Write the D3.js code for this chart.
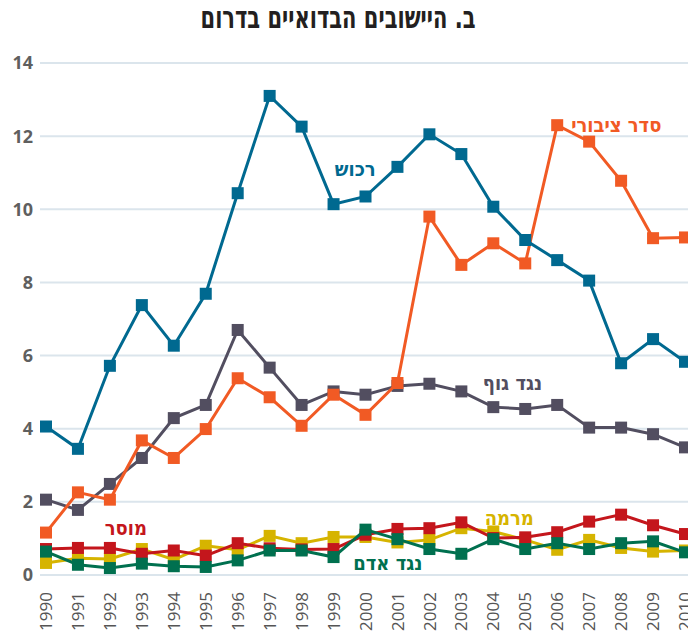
<!DOCTYPE html>
<html>
<head>
<meta charset="utf-8">
<script src="https://cdn.jsdelivr.net/npm/d3@7"></script>
<style>
  body { margin: 0; background: #fff; }
  svg text { font-family: "Open Sans", "DejaVu Sans", sans-serif; }
</style>
</head>
<body>
<div id="chart"></div>
<script>
const years = d3.range(1990, 2011)
const yTicks = [0, 2, 4, 6, 8, 10, 12, 14]

const property = [4.06, 3.45, 5.72, 7.38, 6.27, 7.69, 10.44, 13.1, 12.26, 10.14, 10.35, 11.16, 12.05, 11.51, 10.07, 9.16, 8.61, 8.05, 5.79, 6.45, 5.83]
const publicOrder = [1.16, 2.26, 2.06, 3.68, 3.2, 3.99, 5.38, 4.86, 4.08, 4.93, 4.38, 5.25, 9.8, 8.48, 9.07, 8.52, 12.3, 11.85, 10.78, 9.21, 9.23]
const body = [2.06, 1.78, 2.49, 3.2, 4.29, 4.65, 6.7, 5.67, 4.65, 5.02, 4.93, 5.17, 5.23, 5.02, 4.59, 4.54, 4.65, 4.03, 4.03, 3.85, 3.49]
const morals = [0.71, 0.74, 0.74, 0.58, 0.67, 0.53, 0.87, 0.73, 0.7, 0.71, 1.1, 1.26, 1.28, 1.44, 1.01, 1.03, 1.17, 1.46, 1.65, 1.36, 1.12]
const fraud = [0.33, 0.46, 0.44, 0.71, 0.42, 0.8, 0.69, 1.07, 0.87, 1.04, 1.04, 0.89, 0.96, 1.28, 1.19, 0.96, 0.69, 0.96, 0.74, 0.64, 0.67]
const person = [0.64, 0.28, 0.19, 0.31, 0.24, 0.22, 0.4, 0.67, 0.67, 0.49, 1.24, 0.98, 0.71, 0.58, 0.98, 0.71, 0.87, 0.71, 0.87, 0.92, 0.62]

// drawn bottom to top
const series = [
    {name: "מרמה", values: fraud, color: "#d6b400", lx: 2004.5, ly: 1.37},
    {name: "מוסר", values: morals, color: "#c4161c", lx: 1992.5, ly: 1.1},
    {name: "נגד אדם", values: person, color: "#00704f", lx: 2000.7, ly: 0.15},
    {name: "נגד גוף", values: body, color: "#524e60", lx: 2004.6, ly: 5.05},
    {name: "סדר ציבורי", values: publicOrder, color: "#f15a24", lx: 2007.85, ly: 12.1},
    {name: "רכוש", values: property, color: "#006990", lx: 1999.68, ly: 10.9},
]

const width = 688, height = 639

var svg = d3.select("#chart").append("svg")
    .attr("width", width)
    .attr("height", height)

var x = d3.scaleLinear().domain([1990, 2010]).range([46, 685])
var y = d3.scaleLinear().domain([0, 14]).range([575, 63])

// title
svg.append("text")
    .attr("x", 338)
    .attr("y", 28)
    .attr("text-anchor", "middle")
    .attr("direction", "rtl")
    .attr("textLength", 275)
    .attr("lengthAdjust", "spacingAndGlyphs")
    .style("font-family", "'DejaVu Sans Condensed', 'DejaVu Sans', sans-serif")
    .style("font-size", "31px")
    .style("font-weight", "bold")
    .style("fill", "#231f20")
    .text("ב. היישובים הבדואיים בדרום")

// grid
svg.append("g")
    .selectAll("line")
    .data(yTicks)
    .enter().append("line")
    .attr("x1", 40)
    .attr("x2", width)
    .attr("y1", d => y(d))
    .attr("y2", d => y(d))
    .style("stroke", "#dbe5ec")
    .style("stroke-width", 2)

// y axis labels
svg.append("g")
    .selectAll("text")
    .data(yTicks)
    .enter().append("text")
    .attr("x", 33)
    .attr("y", d => y(d))
    .attr("dy", ".36em")
    .attr("text-anchor", "end")
    .style("font-size", "18px")
    .style("font-weight", "bold")
    .style("fill", "#5f5f5f")
    .text(d => d)

// x axis labels
svg.append("g")
    .selectAll("text")
    .data(years)
    .enter().append("text")
    .attr("transform", d => "translate(" + x(d) + ",592) rotate(-90)")
    .attr("dy", ".36em")
    .attr("text-anchor", "end")
    .style("font-size", "17px")
    .style("fill", "#555")
    .text(d => d)

var line = d3.line()
    .x((d, i) => x(years[i]))
    .y(d => y(d))

series.forEach(function(s) {
    var g = svg.append("g")
    g.append("path")
        .attr("d", line(s.values))
        .style("fill", "none")
        .style("stroke", s.color)
        .style("stroke-width", 3)
    g.selectAll("rect")
        .data(s.values)
        .enter().append("rect")
        .attr("x", (d, i) => x(years[i]) - 6)
        .attr("y", d => y(d) - 6)
        .attr("width", 12)
        .attr("height", 12)
        .style("fill", s.color)
})

// series labels
series.forEach(function(s) {
    svg.append("text")
        .attr("x", x(s.lx))
        .attr("y", y(s.ly))
        .attr("text-anchor", "middle")
        .attr("direction", "rtl")
        .style("font-family", "'DejaVu Sans Condensed', 'DejaVu Sans', sans-serif")
        .style("font-size", "20px")
        .style("font-weight", "bold")
        .style("fill", s.color)
        .text(s.name)
})
</script>
</body>
</html>
